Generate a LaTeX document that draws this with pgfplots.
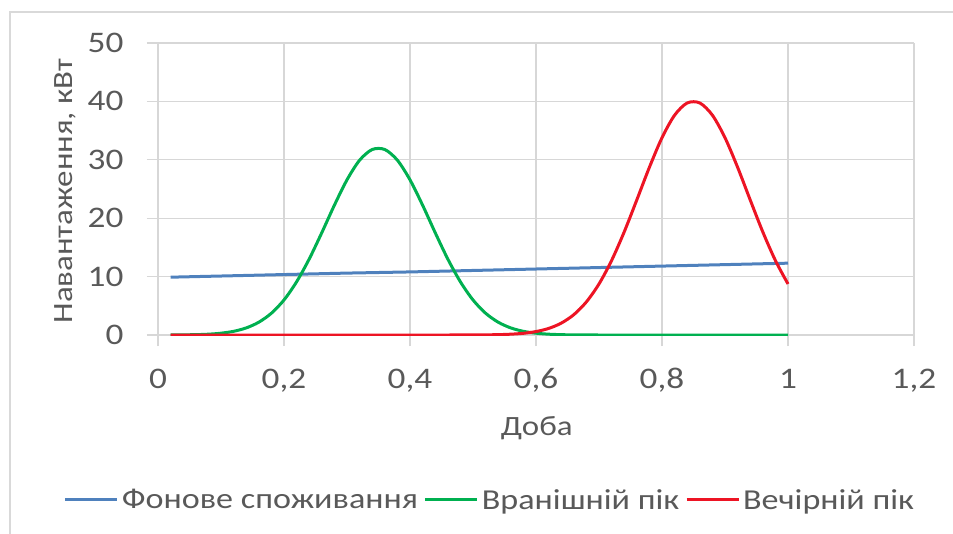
\documentclass[border=0pt]{standalone}
\usepackage{fontspec}
\setmainfont{Carlito}[FakeStretch=1.18]
\usepackage{pgfplots}
\pgfplotsset{compat=1.18}
\definecolor{txt}{RGB}{89,89,89}
\definecolor{gridc}{RGB}{215,215,215}
\definecolor{framec}{RGB}{217,217,217}
\definecolor{sblue}{RGB}{79,129,189}
\definecolor{sgreen}{RGB}{0,176,80}
\definecolor{sred}{RGB}{237,20,36}
\begin{document}
\begin{tikzpicture}
\path[use as bounding box] (-158bp,-199bp) rectangle (795bp,335bp);
\draw[line width=1.5bp, color=framec] (-148bp,-199bp) -- (-148bp,323bp) -- (795bp,323bp);
\begin{axis}[
  at={(0,0)}, anchor=origin,
  scale only axis, width=756bp, height=292bp,
  xmin=0, xmax=1.2, ymin=0, ymax=50,
  xtick={0,0.2,0.4,0.6,0.8,1,1.2},
  xticklabels={0,{0,2},{0,4},{0,6},{0,8},1,{1,2}},
  ytick={0,10,20,30,40,50},
  yticklabels={0,10,20,30,40,50},
  grid=major, grid style={line width=1.2bp, color=gridc},
  axis line style={draw=none},
  tick align=outside, major tick length=11bp,
  tick style={line width=1.2bp, color=gridc},
  tick pos=left,
  ticklabel style={font=\fontsize{30}{36}\selectfont, text=txt},
  xticklabel style={anchor=base, yshift=-42bp},
  yticklabel style={anchor=east, xshift=-20bp},
  xlabel={Доба},
  xlabel style={at={(axis description cs:0.501,-0.3425)}, anchor=base, font=\fontsize{28}{34}\selectfont, text=txt},
  ylabel={Навантаження, кВт},
  ylabel style={at={(axis description cs:-0.1125,0.493)}, anchor=base, rotate=0, font=\fontsize{28}{34}\selectfont, text=txt},
  legend columns=3,
  legend style={at={(axis description cs:0.4378,-0.565)}, anchor=center, draw=none, fill=none,
    font=\fontsize{29}{35}\selectfont\color{txt},
    nodes={inner sep=0pt},
    /tikz/every odd column/.append style={column sep=3bp},
    /tikz/every even column/.append style={column sep=6bp}},
  legend image code/.code={\draw[#1] (0bp,0bp) -- (52bp,0bp);},
]
\addplot[sblue, line width=3bp] coordinates {
(0.02,9.9) (0.1,10.1) (0.2,10.35) (0.3,10.6) (0.4,10.8) (0.5,11.05)
(0.6,11.3) (0.7,11.55) (0.8,11.8) (0.9,12.05) (1.0,12.3)};
\addlegendentry{Фонове споживання}
\addplot[sgreen, line width=3bp, smooth] coordinates {
(0.02,0.01) (0.04,0.03) (0.06,0.06) (0.08,0.14) (0.10,0.31) (0.12,0.63)
(0.14,1.21) (0.16,2.19) (0.18,3.73) (0.20,6.00) (0.22,9.11) (0.24,13.01)
(0.26,17.52) (0.28,22.23) (0.30,26.57) (0.32,29.93) (0.34,31.76) (0.36,31.76)
(0.38,29.93) (0.40,26.57) (0.42,22.23) (0.44,17.52) (0.46,13.01) (0.48,9.11)
(0.50,6.00) (0.52,3.73) (0.54,2.19) (0.56,1.21) (0.58,0.63) (0.60,0.31)
(0.62,0.14) (0.64,0.06) (0.66,0.02) (0.70,0) (0.80,0) (0.90,0) (1.00,0)};
\addlegendentry{Вранішній пік}
\addplot[sred, line width=3bp, smooth] coordinates {
(0.02,0) (0.10,0) (0.20,0) (0.30,0) (0.40,0) (0.46,0) (0.50,0.01) (0.52,0.03)
(0.54,0.06) (0.56,0.14) (0.58,0.29) (0.60,0.59) (0.62,1.12) (0.64,2.03)
(0.66,3.48) (0.68,5.67) (0.70,8.74) (0.72,12.76) (0.74,17.65) (0.76,23.13)
(0.78,28.72) (0.80,33.78) (0.82,37.64) (0.84,39.73) (0.86,39.73) (0.88,37.64)
(0.90,33.78) (0.92,28.72) (0.94,23.13) (0.96,17.65) (0.98,12.76) (1.00,8.74)};
\addlegendentry{Вечірній пік}
\end{axis}
\end{tikzpicture}
\end{document}
